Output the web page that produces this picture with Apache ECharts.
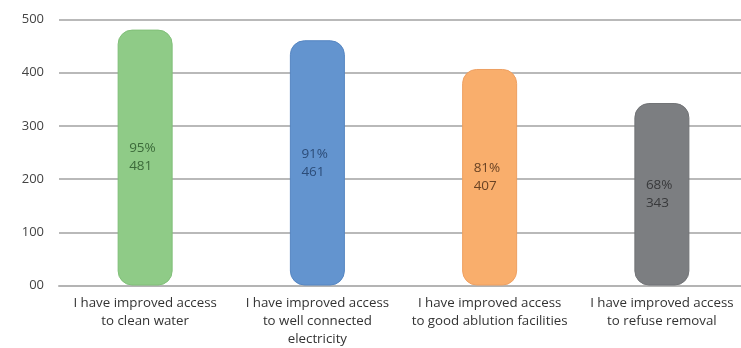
<!DOCTYPE html>
<html>
<head>
<meta charset="utf-8">
<script src="https://cdn.jsdelivr.net/npm/echarts@6/dist/echarts.min.js"></script>
<style>
html,body{margin:0;padding:0;background:#fff;}
#chart{width:741px;height:348px;}
</style>
</head>
<body>
<div id="chart"></div>
<script>
var categories = [
  "I have improved access\nto clean water",
  "I have improved access\nto well connected\nelectricity",
  "I have improved access\nto good ablution facilities",
  "I have improved access\nto refuse removal"
];
var values = [481, 461, 407, 343];
var percents = ["95%", "91%", "81%", "68%"];
var yTicks = [0, 100, 200, 300, 400, 500];
var barColors = ["#8fcb87", "#6394cf", "#f9ae6c", "#7c7e81"];
var borderColors = ["#80bf78", "#5686c2", "#eea062", "#717376"];
var labelColors = ["#3c6a3a", "#2c4c78", "#6a4324", "#38393b"];

var chart = echarts.init(document.getElementById('chart'));
chart.setOption({
  animation: false,
  grid: { left: 59, width: 689, top: 19.5, height: 266, outerBoundsMode: 'none', containLabel: false },
  xAxis: {
    type: 'category',
    data: categories,
    axisLine: { show: true, lineStyle: { color: '#b4b4b4', width: 2 } },
    axisTick: { show: false },
    axisLabel: {
      interval: 0,
      margin: 9,
      fontFamily: 'Open Sans',
      fontSize: 13.3,
      lineHeight: 18,
      color: '#333'
    }
  },
  yAxis: {
    type: 'value',
    min: 0,
    max: 500,
    interval: 100,
    axisLine: { show: false },
    axisTick: { show: false },
    splitLine: { lineStyle: { color: '#b9b9b9', width: 2 } },
    axisLabel: {
      margin: 15,
      fontFamily: 'Open Sans',
      fontSize: 13,
      color: '#444',
      formatter: function (v) { return v === 0 ? '00' : String(v); }
    }
  },
  series: [{
    type: 'bar',
    barWidth: 55,
    data: values.map(function (v, i) {
      return {
        value: v,
        itemStyle: {
          color: barColors[i],
          borderColor: borderColors[i],
          borderWidth: 1,
          borderRadius: 14
        },
        label: {
          show: true,
          position: 'inside',
          align: 'left',
          offset: [-16, 0],
          fontFamily: 'Open Sans',
          fontSize: 13.5,
          lineHeight: 18,
          color: labelColors[i],
          formatter: percents[i] + '\n' + v
        }
      };
    })
  }]
});
</script>
</body>
</html>
